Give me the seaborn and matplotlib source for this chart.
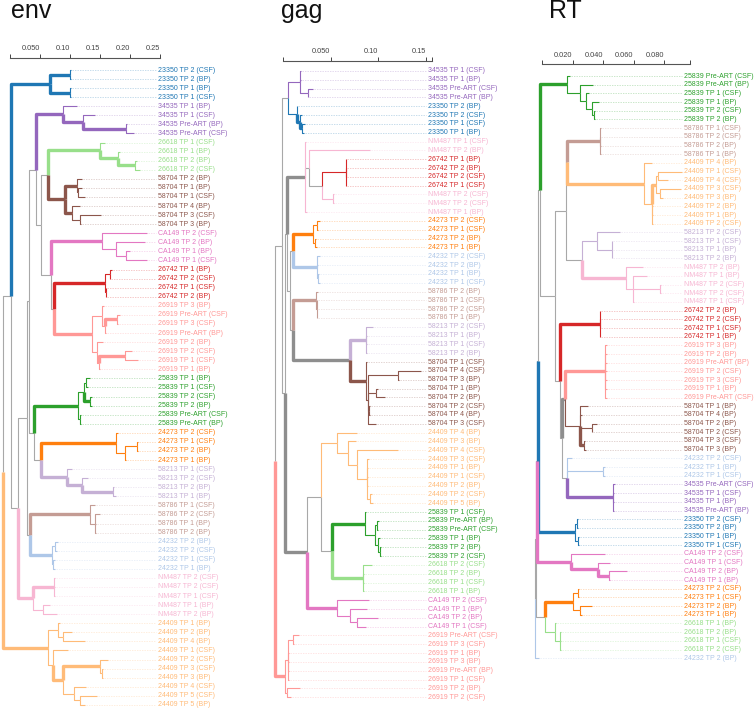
import matplotlib
matplotlib.use("Agg")
import numpy as np
import pandas as pd
import matplotlib.pyplot as plt
import seaborn as sns

sns.set_style("white")
plt.rcParams["font.family"] = ["Liberation Sans", "DejaVu Sans"]

# patients, in the order of the tab20 colour pairs
PATIENTS = ["23350", "24232", "24273", "24409", "25839", "26618", "26742",
            "26919", "34535", "58213", "58704", "58786", "CA149", "NM487"]
COLORS = dict(zip(PATIENTS, sns.color_palette("tab20", 14).as_hex()))

# leaf codes: 1C = TP 1 (CSF), 2B = TP 2 (BP), PC = Pre-ART (CSF) ...
# internal label 100 = strongly supported branch
ENV_CLADES = {
    "23350": "((2C:0.0017,2B:0.0017)100:0.0333,(1B:0.0017,1C:0.0017)100:0.0333)100",
    "34535": "(1B:0.0233,(1C:0.02,(PB:0.0017,PC:0.0133)100:0.0717)100:0.0333)100",
    "26618": "(1C:0.0083,(1B:0.0033,(2B:0.0033,2C:0.0083)100:0.0283)100:0.03)100",
    "58704": "((2B:0.0083,(1B:0.0067,1C:0.0117):0.0017)100:0.02,(4B:0.0133,(3C:0.035,3B:0.0017):0.0133)100:0.0117)100",
    "CA149": "(2C:0.075,(2B:0.0483,(1B:0.0067,1C:0.035):0.0167):0.0233)100",
    "26742": "((1B:0.0033,2C:0.0005):0.0083,(1C:0.0005,2B:0.0005):0.0017)100",
    "26919": "((3B:0.0033,((PC:0.005,3C:0.0017)100:0.02,PB:0.0017):0.005):0.0167,(2B:0.01,((2C:0.0117,1C:0.0217)100:0.0433,1B:0.0017):0.0033):0.0083)100",
    "25839": "(((1B:0.0067,1C:0.0033):0.0033,(2C:0.0033,2B:0.0033)100:0.01):0.01,(PC:0.0017,PB:0.0017):0.0033)100",
    "24273": "(2C:0.0033,((1C:0.0017,2B:0.0017):0.02,1B:0.0017):0.015)100",
    "58213": "(1C:0.0083,(2C:0.01,(2B:0.0017,1B:0.005)100:0.0517)100:0.025)100",
    "58786": "(1C:0.0083,(2C:0.0083,1B:0.0017,2B:0.0017):0.0083)100",
    "24232": "((2B:0.005,2C:0.0033):0.005,(1C:0.0033,1B:0.0033):0.0017)100",
    "NM487": "((2C:0.0017,2C:0.0017,1C:0.0017)100:0.035,(1B:0.0117,2B:0.0233):0.0167)100",
    "24409": "((1B:0.0033,(2B:0.015,4B:0.0367):0.0083):0.0167,(1C:0.025,((2C:0.0133,(3C:0.0017,3B:0.0017):0.0033)100:0.0617,(4C:0.02,(5C:0.0283,5B:0.0083):0.01):0.0183)100:0.0167):0.0083)100",
}
ENV_BACKBONE = ("((23350:0.065,((((34535:0.045,((26618:0.0867,58704:0.0283):0.0117,"
                "(CA149:0.085,(26742:0.085,26919:0.0633):0.005):0.0167):0.0083):0.0117,"
                "(25839:0.0733,(24273:0.125,58213:0.0433):0.0117):0.0083):0.0033,"
                "(58786:0.1,24232:0.0367):0.005):0.015,NM487:0.025):0.0117):0.0138,24409:0.0755)")

GAG_CLADES = {
    "34535": "(1C:0.0007,1B:0.0007,(PC:0.0049,PB:0.0003):0.0084)",
    "23350": "(2B:0.0005,(2C:0.0021,(1C:0.0032,1B:0.0021)100:0.0021)100:0.0032)",
    "26742": "(1B:0.0005,2B:0.0005,2C:0.0005,1C:0.0005)",
    "24273": "((2C:0.0032,1C:0.0005):0.0042,(2B:0.0011,1B:0.0016):0.0021)100",
    "24232": "(2C:0.0035,2B:0.0014,(1B:0.0011,1C:0.0021):0.0014)100",
    "58786": "(2B:0.0021,(1C:0.0005,2C:0.0005,1B:0.0005):0.0005)100",
    "58213": "(2C:0.0074,1B:0.0005,1C:0.0005,2B:0.0005)100",
    "58704": "(1C:0.0011,((4C:0.0242,3B:0.0011):0.0315,(1B:0.0021,2B:0.0095):0.0084,(2C:0.0011,4B:0.0011):0.0011,3C:0.0084):0.0021)100",
    "24409": "(4B:0.021,(3B:0.0084,(4C:0.0431,(3C:0.0024,1B:0.0014,1C:0.0014,2B:0.0014,(2C:0.0021,5B:0.0032):0.0035):0.0102):0.0095):0.0116)",
    "25839": "(1C:0.0011,((PB:0.0021,PC:0.0011):0.0021,(1B:0.0021,(2B:0.0011,2C:0.0011):0.0021):0.0032):0.0105)100",
    "26618": "(2C:0.0095,2B:0.0011,1C:0.0011,1B:0.0011)100",
    "CA149": "(2C:0.0339,(1B:0.0179,(2B:0.0221,1C:0.0095):0.0074):0.014)100",
    "26919": "(((PC:0.006,3C:0.001):0.0055,1B:0.0005,3B:0.0005,PB:0.0005,1C:0.0005):0.0032,(2B:0.0137,2C:0.0042):0.0021)100",
}
GAG_BACKBONE = ("(((34535:0.0126,23350:0.0095):0.0066,(((NM487/1C:0.0011,(NM487/2B:0.0641,"
                "(26742:0.0255,(NM487/2C:0.0011,NM487/2C:0.0011):0.0119):0.0133):0.0042,"
                "NM487/1B:0.0021)100:0.0192,((24273:0.021,24232:0.0249):0.0032,(58786:0.0242,"
                "(58213:0.0168,58704:0.0168)100:0.0599):0.0032):0.0035):0.0018,((24409:0.0168,"
                "(25839:0.0347,26618:0.0326):0.0116):0.015,CA149:0.0315)100:0.0228):0.0035):0.007,"
                "26919:0.0105)")

RT_CLADES = {
    "25839": "(PC:0.0022,(PB:0.0091,(1C:0.002,(1B:0.004,(2C:0.0007,2B:0.0007):0.0007):0.0041):0.0044):0.0083)100",
    "58786": "(1C:0.0007,2C:0.0005,2B:0.0007,1B:0.0007)100",
    "24409": "(4B:0.0053,(((1C:0.0156,4C:0.0066):0.0013,(3C:0.0138,3B:0.002):0.0026)100:0.0026,2B:0.0007,1B:0.0007,2C:0.0007):0.0053)100",
    "58213": "(2C:0.0151,(1C:0.0005,1B:0.0005,2B:0.0005):0.0095)",
    "NM487": "(2B:0.0114,(1B:0.0088,(2C:0.0003,2C:0.0003):0.0176,1C:0.0005):0.0048)100",
    "26742": "(2B:0.0005,2C:0.0005,1C:0.0005,1B:0.0005)100",
    "26919": "(3B:0.0011,2B:0.0011,PB:0.0011,2C:0.0011,3C:0.0011,1B:0.0011,PC:0.0011)100",
    "58704": "(1B:0.0055,4B:0.0013,(2B:0.0033,2C:0.0005):0.0077,(3C:0.0005,3B:0.0011)100:0.0028)",
    "34535": "(PC:0.0013,1C:0.0008,1B:0.0008,PB:0.0008)100",
    "23350": "((2C:0.0007,2B:0.0007):0.0009,(1B:0.0007,1C:0.0007):0.002)100",
    "CA149": "(2C:0.0226,(1C:0.0079,(2B:0.0114,1B:0.0002)100:0.0074)100:0.018)100",
    "24273": "((2C:0.0005,1C:0.0003):0.0033,(2B:0.0079,1B:0.0013):0.0044)100",
    "26618": "(1B:0.0007,(2B:0.0007,1C:0.0003,2C:0.0007):0.0033)",
}
RT_BACKBONE = ("(((((25839:0.018,(((58786:0.0213,24409:0.0507):0.0007,(58213:0.0101,NM487:0.0291):0.0103):0.0072,"
               "(26742:0.0259,((26919:0.0263,58704:0.0099)100:0.0022,(24232/2C:0.0033,(24232/1B:0.0013,"
               "24232/1C:0.0013):0.0239,34535:0.0305):0.0033):0.0009):0.0033):0.0103):0.0012,23350:0.0247):0.0007,"
               "CA149:0.0225):0.0007,(24273:0.0186,26618:0.0066):0.0063):0.0007,24232/2B:0.003)")


def parse(s):
    pos = 0

    def word():
        nonlocal pos
        start = pos
        while pos < len(s) and s[pos] not in ":,();":
            pos += 1
        return s[start:pos]

    def node():
        nonlocal pos
        n = {"children": [], "name": None, "length": 0.0, "support": None}
        if s[pos] == "(":
            pos += 1
            while True:
                n["children"].append(node())
                ch = s[pos]
                pos += 1
                if ch == ")":
                    break
            lab = word()
            if lab:
                n["support"] = float(lab)
        else:
            n["name"] = word()
        if pos < len(s) and s[pos] == ":":
            pos += 1
            n["length"] = float(word())
        return n

    return node()


def tag(n, pid):
    if n["children"]:
        for c in n["children"]:
            tag(c, pid)
    else:
        n["pid"], n["code"] = pid, n["name"]


def expand(n, clades):
    if n["children"]:
        n["children"] = [expand(c, clades) for c in n["children"]]
        return n
    if "/" in n["name"]:
        n["pid"], n["code"] = n["name"].split("/")
        return n
    sub = parse(clades[n["name"]])
    sub["length"] = n["length"]
    tag(sub, n["name"])
    return sub


def label(pid, code):
    tp = "Pre-ART" if code[0] == "P" else "TP " + code[0]
    src = "CSF" if code[1] == "C" else "BP"
    return f"{pid} {tp} ({src})"


def layout(n, x, y0, dy, count):
    n["x"] = x
    if not n["children"]:
        n["y"] = y0 + count[0] * dy
        count[0] += 1
        n["pids"] = {n["pid"]}
    else:
        for c in n["children"]:
            layout(c, x + c["length"], y0, dy, count)
        n["y"] = (n["children"][0]["y"] + n["children"][-1]["y"]) / 2
        n["pids"] = set().union(*[c["pids"] for c in n["children"]])


PANELS = [
    dict(title="env", backbone=ENV_BACKBONE, clades=ENV_CLADES, left=0, right=262,
         zero=10, scale=600, root=-0.0122, y0=70, dy=9.07, label_px=157.7, axis_y=58,
         ticks=[0, 0.05, 0.1, 0.15, 0.2, 0.25], ticklabels=["", "0.050", "0.10", "0.15", "0.20", "0.25"],
         title_px=11),
    dict(title="gag", backbone=GAG_BACKBONE, clades=GAG_CLADES, left=262, right=505,
         zero=283, scale=952, root=-0.0084, y0=71, dy=8.82, label_px=427.7, axis_y=60.7,
         ticks=[0, 0.05, 0.1, 0.15, 0.1565], ticklabels=["", "0.050", "0.10", "0.15", ""],
         title_px=281),
    dict(title="RT", backbone=RT_BACKBONE, clades=RT_CLADES, left=505, right=755,
         zero=542.3, scale=1520, root=-0.0051, y0=76, dy=8.69, label_px=684, axis_y=64.3,
         ticks=[0, 0.02, 0.04, 0.06, 0.08, 0.097], ticklabels=["", "0.020", "0.040", "0.060", "0.080", ""],
         title_px=549),
]

W, H = 755, 709
fig = plt.figure(figsize=(W / 100, H / 100), dpi=100)

for p in PANELS:
    tree = expand(parse(p["backbone"]), p["clades"])
    layout(tree, p["root"], p["y0"], p["dy"], [0])

    rows, leaves = [], []

    def walk(n):
        if not n["children"]:
            leaves.append(n)
        for c in n["children"]:
            thick = c["support"] is not None
            if len(c["pids"]) == 1:
                col = COLORS[next(iter(c["pids"]))]
            else:
                col = "#8e8e8e" if thick else "#a8a8a8"
            e = len(rows) // 3
            w = "thick" if thick else "thin"
            rows.append((n["x"], n["y"], e, col, w))
            rows.append((n["x"], c["y"], e, col, w))
            rows.append((c["x"], c["y"], e, col, w))
            walk(c)

    walk(tree)
    df = pd.DataFrame(rows, columns=["x", "y", "edge", "color", "width"])

    ax = fig.add_axes([p["left"] / W, 0, (p["right"] - p["left"]) / W, 1])
    sns.lineplot(data=df, x="x", y="y", units="edge", estimator=None, sort=False,
                 hue="color", palette={c: c for c in df["color"].unique()},
                 size="width", sizes={"thick": 2.4, "thin": 0.8}, legend=False, ax=ax,
                 solid_capstyle="butt")

    px = 1 / p["scale"]
    lab_x = (p["label_px"] - p["zero"]) / p["scale"]
    for lf in leaves:
        col = COLORS[lf["pid"]]
        ax.hlines(lf["y"], lf["x"] + px, lab_x - 2 * px, colors=col, alpha=0.35,
                  linestyles=(0, (2, 1.6)), lw=0.5)
        ax.text(lab_x, lf["y"], label(lf["pid"], lf["code"]), color=col,
                fontsize=5.05, va="center", ha="left")

    ax.set_xlim((p["left"] - p["zero"]) / p["scale"], (p["right"] - p["zero"]) / p["scale"])
    ax.set_ylim(H, 0)
    ax.set_xlabel("")
    ax.set_ylabel("")
    ax.set_yticks([])
    for s in ["left", "right", "bottom"]:
        ax.spines[s].set_visible(False)
    sp = ax.spines["top"]
    sp.set_visible(True)
    sp.set_position(("data", p["axis_y"]))
    sp.set_bounds(p["ticks"][0], p["ticks"][-1])
    sp.set_color("#555555")
    sp.set_linewidth(0.8)
    ax.xaxis.set_ticks_position("top")
    ax.set_xticks(p["ticks"], p["ticklabels"])
    ax.tick_params(axis="x", direction="out", length=3, width=0.7, pad=1,
                   labelsize=5.3, colors="#444444")
    for t in ax.get_xticklabels():
        t.set_horizontalalignment("right")
    ax.patch.set_alpha(0)

    fig.text(p["title_px"] / W, 1 - 18 / H, p["title"], fontsize=18,
             ha="left", va="baseline", color="#111111")

fig.savefig("out.png", dpi=100)
